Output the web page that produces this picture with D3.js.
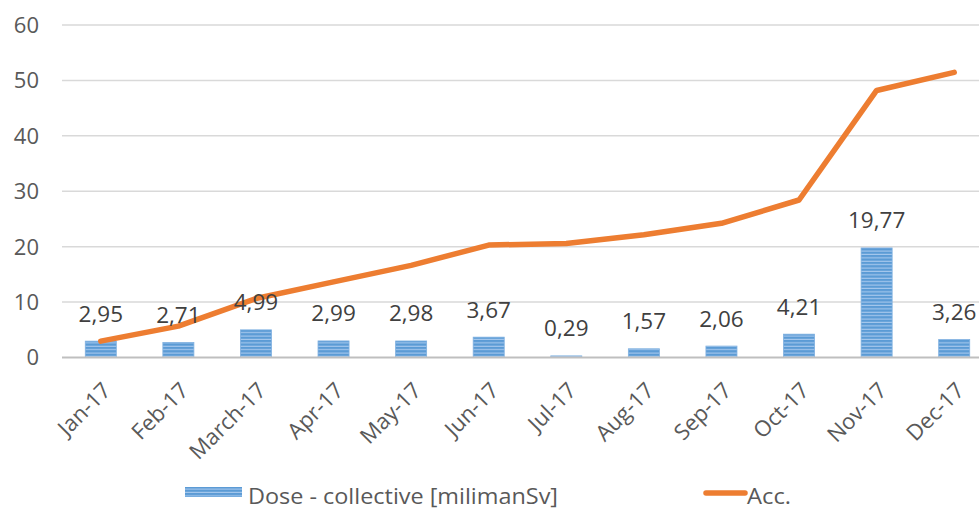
<!DOCTYPE html>
<html><head><meta charset="utf-8">
<script src="https://cdn.jsdelivr.net/npm/d3@7"></script>
<style>body{margin:0;background:#fff}svg{display:block}</style>
</head><body>
<svg id="c" width="979" height="509"></svg>
<script>
const categories = ["Jan-17","Feb-17","March-17","Apr-17","May-17","Jun-17","Jul-17","Aug-17","Sep-17","Oct-17","Nov-17","Dec-17"];
const dose = [2.95,2.71,4.99,2.99,2.98,3.67,0.29,1.57,2.06,4.21,19.77,3.26];
const acc = [2.95,5.66,10.65,13.64,16.62,20.29,20.58,22.15,24.21,28.42,48.19,51.45];
const yTicks = [0,10,20,30,40,50,60];
const seriesNames = ["Dose - collective [milimanSv]","Acc."];

const svg = d3.select("#c");
const font = "'Open Sans', sans-serif";
const plotLeft = 62, plotRight = 993, plotTop = 25, plotBottom = 357.5;
const x = d3.scaleBand().domain(categories).range([plotLeft, plotRight]).paddingInner(0.6).paddingOuter(0.3);
const y = d3.scaleLinear().domain([0,60]).range([plotBottom, plotTop]);

const defs = svg.append("defs");
const pat = defs.append("pattern").attr("id","stripes").attr("patternUnits","userSpaceOnUse")
  .attr("width",8).attr("height",3.4);
pat.append("rect").attr("width",8).attr("height",3.4).attr("fill","#a8c9ee");
pat.append("rect").attr("y",0).attr("width",8).attr("height",2.3).attr("fill","#5b9bd5");

// gridlines
svg.append("g").selectAll("line").data(yTicks.filter(d=>d>0)).join("line")
  .attr("x1",plotLeft).attr("x2",979).attr("y1",d=>y(d)).attr("y2",d=>y(d))
  .attr("stroke","#d9d9d9").attr("stroke-width",1.5);

// y labels
svg.append("g").selectAll("text").data(yTicks).join("text")
  .attr("x",39).attr("y",d=>y(d)).attr("dy","0.36em").attr("text-anchor","end")
  .attr("font-family",font).attr("font-size",22).attr("fill","#595959").text(d=>d);

// bars
svg.append("g").selectAll("rect").data(dose).join("rect")
  .attr("x",(d,i)=>x(categories[i])).attr("width",x.bandwidth())
  .attr("y",d=>y(d)).attr("height",d=>y(0)-y(d))
  .attr("fill","url(#stripes)").attr("stroke","#7fb0e0").attr("stroke-width",0.8);

// axis line
svg.append("line").attr("x1",plotLeft).attr("x2",979).attr("y1",y(0)).attr("y2",y(0))
  .attr("stroke","#bfbfbf").attr("stroke-width",2);

// line
const line = d3.line().x((d,i)=>x(categories[i])+x.bandwidth()/2).y(d=>y(d));
svg.append("path").datum(acc).attr("d",line).attr("fill","none")
  .attr("stroke","#ed7d31").attr("stroke-width",5.5).attr("stroke-linejoin","round").attr("stroke-linecap","round");

// data labels
svg.append("g").selectAll("text").data(dose).join("text")
  .attr("x",(d,i)=>x(categories[i])+x.bandwidth()/2).attr("y",d=>y(d)-19.5)
  .attr("text-anchor","middle").attr("font-family",font).attr("font-size",22.5).attr("fill","#404040")
  .text(d=>d.toFixed(2).replace(".",","));

// x labels
svg.append("g").selectAll("text").data(categories).join("text")
  .attr("transform",d=>`translate(${x(d)+x.bandwidth()/2+6},${plotBottom+29}) rotate(-45)`)
  .attr("text-anchor","end").attr("dy","0.35em")
  .attr("font-family",font).attr("font-size",22).attr("fill","#595959").text(d=>d);

// legend
const lg = svg.append("g");
lg.append("rect").attr("x",185).attr("y",487).attr("width",57).attr("height",10).attr("fill","url(#stripes)");
lg.append("text").attr("x",248).attr("y",504).attr("font-family",font)
  .attr("font-size",22).attr("fill","#595959").attr("textLength",310).attr("lengthAdjust","spacingAndGlyphs").text(seriesNames[0]);
lg.append("line").attr("x1",706).attr("x2",745).attr("y1",493).attr("y2",493)
  .attr("stroke","#ed7d31").attr("stroke-width",5.5).attr("stroke-linecap","round");
lg.append("text").attr("x",747).attr("y",504).attr("font-family",font)
  .attr("font-size",22).attr("fill","#595959").attr("textLength",44).attr("lengthAdjust","spacingAndGlyphs").text(seriesNames[1]);
</script>
</body></html>
